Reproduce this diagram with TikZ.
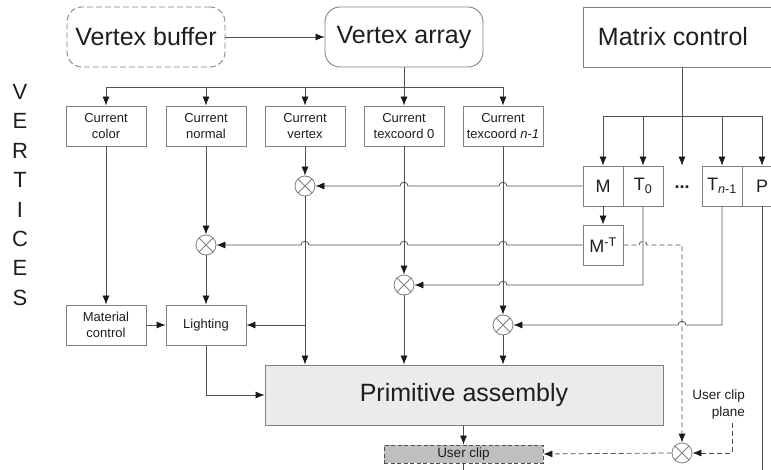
\documentclass[tikz,border=0pt]{standalone}
\usepackage{fontspec}
\setmainfont{Liberation Sans}
\usetikzlibrary{arrows.meta}
\newcommand\hopl[2]{-- ({#1+4},#2) .. controls ({#1+4},{#2-5}) and ({#1-4},{#2-5}) .. ({#1-4},#2)}
\newcommand\hopr[2]{-- ({#1-4},#2) .. controls ({#1-4},{#2-5}) and ({#1+4},{#2-5}) .. ({#1+4},#2)}
\definecolor{ln}{HTML}{505050}
\definecolor{bd}{HTML}{808080}
\definecolor{tx}{HTML}{1E1E1E}
\begin{document}
\begin{tikzpicture}[x=1pt,y=-1pt,
  every node/.style={text=tx},
  bigbox/.style={draw=bd, line width=0.9pt, rounded corners=15pt, minimum width=158pt, minimum height=60pt, font=\fontsize{25}{28}\selectfont, inner sep=0pt},
  smallbox/.style={draw=bd, line width=0.8pt, minimum width=80pt, minimum height=40pt, font=\fontsize{13}{16}\selectfont, align=center, inner sep=0pt},
  matbox/.style={draw=bd, line width=0.8pt, minimum width=40pt, minimum height=40pt, font=\fontsize{18}{20}\selectfont, inner sep=0pt},
  mult/.style={circle, draw=bd, line width=0.8pt, minimum size=20pt, inner sep=0pt,
    path picture={\draw[bd, line width=0.8pt] ([shift={(45:10pt)}]path picture bounding box.center) -- ([shift={(225:10pt)}]path picture bounding box.center);
                  \draw[bd, line width=0.8pt] ([shift={(135:10pt)}]path picture bounding box.center) -- ([shift={(315:10pt)}]path picture bounding box.center);}},
  line/.style={draw=ln, line width=0.8pt},
  arr/.style={line, -{Latex[length=9pt,width=7pt,color=black!90]}},
  darr/.style={arr, dash pattern=on 5pt off 3pt},
  lbl/.style={font=\fontsize{13.5}{17}\selectfont, align=right, inner sep=0pt}
]
\useasboundingbox (0,0) rectangle (771,470);

% top row
\node[bigbox, dash pattern=on 6pt off 3pt] (vb) at (146,37) {Vertex buffer};
\node[bigbox] (va) at (404,37) {Vertex array};
\node[draw=bd, line width=0.9pt, minimum width=210pt, minimum height=60pt, anchor=west, inner sep=0pt] (mcbox) at (583,37) {};
\node[font=\fontsize{25}{28}\selectfont, inner sep=0pt] (mc) at (673,37) {Matrix control};

% vertices label
\node[font=\fontsize{22}{29.4}\selectfont, align=center, inner sep=0pt] (vert) at (20,195) {V\\E\\R\\T\\I\\C\\E\\S};

% current boxes
\node[smallbox] (cc) at (106,126) {Current\\color};
\node[smallbox] (cn) at (206,126) {Current\\normal};
\node[smallbox] (cv) at (305,126) {Current\\vertex};
\node[smallbox] (ct0) at (404,126) {Current\\texcoord 0};
\node[smallbox] (ctn) at (503,126) {Current\\texcoord \textit{n}-\textit{1}};

% matrix boxes
\node[matbox] (M) at (603,186) {M};
\node[matbox] (T0) at (643,186) {T\textsubscript{0}};
\node[minimum width=40pt, minimum height=40pt, inner sep=0pt, font=\fontsize{18}{20}\selectfont\bfseries] (dots) at (682,187) {...};
\node[matbox] (Tn) at (722,186) {T\textsubscript{\textit{n}-1}};
\node[matbox] (P) at (762,186) {P};
\node[matbox] (MT) at (603,245) {M\textsuperscript{-T}};

% multipliers
\node[mult] (x1) at (305,186) {};
\node[mult] (x2) at (206,245) {};
\node[mult] (x3) at (404,285) {};
\node[mult] (x4) at (503,325) {};
\node[mult] (x5) at (682,453) {};

% lower boxes
\node[smallbox] (mat) at (106,325) {Material\\control};
\node[smallbox] (lig) at (206,325) {Lighting};
\node[draw=bd, line width=0.9pt, fill=black!8, minimum width=398pt, minimum height=60pt, inner sep=0pt, font=\fontsize{25}{28}\selectfont] (pa) at (464,395) {Primitive assembly};
\node[draw=ln, line width=0.9pt, dash pattern=on 4pt off 2.5pt, fill=black!25, minimum width=159pt, minimum height=18pt, inner sep=0pt, font=\fontsize{13.5}{15}\selectfont] (uc) at (463.5,454) {User clip};
\node[lbl, anchor=east] (ucp) at (745,405) {User clip\\plane};
\coordinate (ucpt) at (732,423);

% buses
\coordinate (bus1) at (404,87);
\coordinate (bus2) at (682,116);

\draw[arr] (vb.east) -- (va.west);
\draw[line] (va.south) -- (bus1);
\foreach \n in {cc,cn,cv,ct0,ctn} \draw[arr] (bus1) -| (\n.north);
\draw[line] (mcbox.south -| dots) -- (bus2);
\foreach \n in {M,T0,Tn,P} \draw[arr] (bus2) -| (\n.north);
\draw[arr] (bus2) -- (bus2 |- M.north);

% vertex path
\draw[arr] (cv.south) -- (x1.north);
\draw[arr] (M.west) \hopl{503}{186} \hopl{404}{186} -- (x1.east);
\draw[arr] (x1.south) -- (x1.south |- pa.north);
\draw[arr] (x1.south |- lig.east) -- (lig.east);

% normal path
\draw[arr] (cn.south) -- (x2.north);
\draw[arr] (M.south) -- (MT.north);
\draw[arr] (MT.west) \hopl{503}{245} \hopl{404}{245} \hopl{305}{245} -- (x2.east);
\draw[arr] (x2.south) -- (lig.north);

% color / lighting
\draw[arr] (cc.south) -- (mat.north);
\draw[arr] (mat.east) -- (lig.west);
\draw[arr] (lig.south) |- (pa.west);

% texcoords
\draw[arr] (ct0.south) -- (x3.north);
\draw[arr] (T0.south) -- (T0.south |- x3.east) \hopl{503}{285} -- (x3.east);
\draw[arr] (x3.south) -- (x3.south |- pa.north);
\draw[arr] (ctn.south) -- (x4.north);
\draw[arr] (Tn.south) -- (Tn.south |- x4.east) \hopl{682}{325} -- (x4.east);
\draw[arr] (x4.south) -- (x4.south |- pa.north);

% user clip
\draw[darr] (MT.east) \hopr{643}{245} -- (MT.east -| x5.north) -- (x5.north);
\draw[darr] (ucpt) |- (x5.east);
\draw[darr] (x5.west) -- (uc.east);
\draw[arr] (uc.north |- pa.south) -- (uc.north);
\draw[line] (uc.south) -- ++(0,12);
\draw[line] (P.south) -- ++(0,280);
\end{tikzpicture}
\end{document}
